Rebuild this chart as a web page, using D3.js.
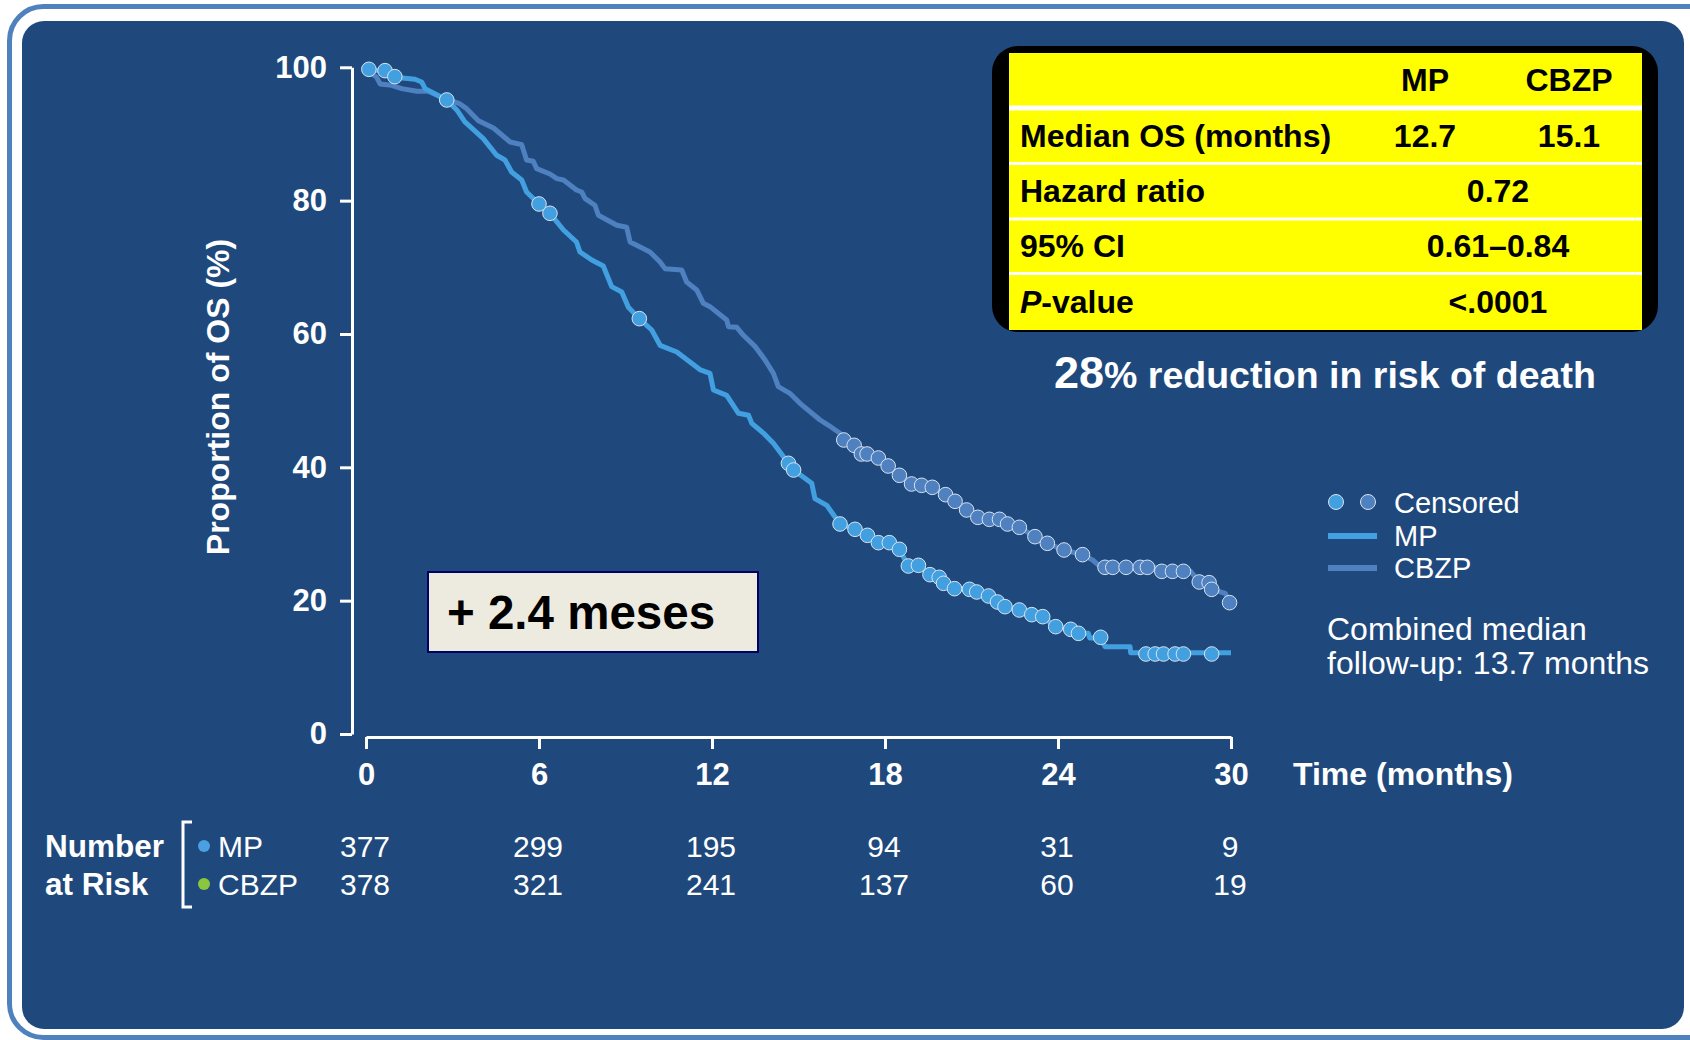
<!DOCTYPE html>
<html>
<head>
<meta charset="utf-8">
<script src="https://cdn.jsdelivr.net/npm/d3@7"></script>
<style>
  body { margin: 0; background: #ffffff; }
  svg { display: block; font-family: "Liberation Sans", Arial, sans-serif; }
</style>
</head>
<body>
<div id="chart"></div>
<script>
// Kaplan-Meier values: [month, % alive]
const mpCurve = [
  [0, 99.7], [0.66, 99.4], [1.0, 98.5], [1.7, 98.2], [1.93, 97.8], [2.05, 96.8], [2.8, 95.1],
  [3.15, 93.6], [3.43, 91.8], [4.07, 89.3], [4.53, 86.8], [4.82, 86.1], [5.05, 84.3], [5.4, 83.1],
  [5.57, 81.3], [6.0, 79.5], [6.38, 78.1], [6.85, 75.6], [7.3, 73.8], [7.42, 72.3], [7.83, 71.1],
  [8.23, 70.2], [8.52, 67.1], [8.87, 66.3], [9.1, 64.0], [9.48, 62.3], [9.91, 60.6], [10.2, 58.3],
  [10.78, 57.3], [11.6, 54.6], [11.93, 54.1], [12.05, 51.6], [12.51, 50.8], [12.92, 48.1],
  [13.27, 47.8], [13.38, 46.6], [13.79, 45.1], [14.13, 43.6], [14.65, 40.6], [14.83, 39.6],
  [15.46, 37.6], [15.57, 35.3], [15.98, 34.3], [16.44, 31.5], [16.96, 30.7], [17.39, 29.8],
  [17.77, 28.7], [18.15, 28.7], [18.5, 27.7], [18.81, 25.2], [19.16, 25.2], [19.56, 23.9],
  [19.88, 23.5], [20.03, 22.6], [20.41, 21.8], [20.93, 21.7], [21.18, 21.3], [21.59, 20.7],
  [21.9, 19.8], [22.16, 19.1], [22.66, 18.6], [23.09, 17.9], [23.47, 17.6], [23.92, 16.1],
  [24.44, 15.7], [24.71, 15.1], [25.05, 15.1], [25.1, 14.4], [25.48, 14.4], [25.63, 13.1],
  [26.5, 13.1], [26.52, 12.2], [30, 12.2]
];
const cbzpCurve = [
  [0, 99.7], [0.37, 98.5], [0.49, 97.5], [0.89, 97.3], [1.24, 96.8], [1.76, 96.4], [2.16, 96.4],
  [2.57, 95.6], [3.26, 94.5], [3.49, 93.8], [3.9, 92.0], [4.42, 90.9], [5.0, 88.8], [5.4, 88.4],
  [5.57, 86.1], [5.8, 85.9], [5.92, 84.8], [6.38, 84.0], [6.62, 83.3], [6.85, 83.1], [7.3, 81.6],
  [7.48, 81.3], [7.6, 80.3], [7.94, 79.3], [8.06, 77.8], [8.7, 76.3], [9.04, 76.0], [9.16, 73.8],
  [9.85, 72.3], [10.2, 70.8], [10.37, 69.8], [10.95, 69.6], [11.12, 67.8], [11.47, 66.6],
  [11.7, 64.6], [11.93, 64.1], [12.51, 62.1], [12.57, 61.1], [12.86, 61.0], [13.09, 59.8],
  [13.5, 58.1], [13.84, 56.1], [14.13, 54.1], [14.3, 52.1], [14.7, 51.1], [15.05, 49.6],
  [15.75, 47.1], [16.04, 46.3], [16.44, 45.1], [16.57, 44.1], [16.93, 43.3], [17.18, 42.0],
  [17.38, 42.0], [17.77, 41.4], [18.11, 40.2], [18.5, 38.8], [18.92, 37.5], [19.27, 37.3],
  [19.64, 37.0], [20.1, 35.9], [20.43, 34.9], [20.83, 33.6], [21.22, 32.5], [21.62, 32.2],
  [21.97, 32.2], [22.25, 31.5], [22.66, 31.0], [23.2, 29.6], [23.63, 28.6], [24.21, 27.6],
  [24.85, 26.9], [25.2, 26.1], [25.5, 25.0], [27.4, 25.0], [27.45, 24.4], [28.6, 24.4],
  [28.9, 22.8], [29.24, 22.7], [29.33, 21.7], [29.8, 21.1], [29.95, 19.7]
];

// censored observations
const mpCensored = [
  [0.1, 99.7], [0.66, 99.5], [1.0, 98.6], [2.8, 95.1], [6.0, 79.5], [6.38, 78.1], [9.48, 62.3],
  [14.65, 40.6], [14.83, 39.6], [16.44, 31.5], [16.96, 30.7], [17.39, 29.8], [17.77, 28.7],
  [18.15, 28.7], [18.5, 27.7], [18.81, 25.2], [19.16, 25.3], [19.56, 23.9], [19.88, 23.5],
  [20.03, 22.6], [20.41, 21.8], [20.93, 21.7], [21.18, 21.3], [21.59, 20.7], [21.9, 19.8],
  [22.16, 19.1], [22.66, 18.6], [23.09, 17.9], [23.47, 17.6], [23.92, 16.1], [24.44, 15.7],
  [24.71, 15.1], [25.48, 14.5], [27.05, 12.0], [27.37, 12.0], [27.66, 12.0], [28.06, 12.0],
  [28.35, 12.0], [29.33, 12.0]
];
const cbzpCensored = [
  [16.57, 44.1], [16.93, 43.3], [17.18, 42.0], [17.38, 42.0], [17.77, 41.4], [18.11, 40.2],
  [18.5, 38.8], [18.92, 37.5], [19.27, 37.3], [19.64, 37.0], [20.1, 35.9], [20.43, 34.9],
  [20.83, 33.6], [21.22, 32.5], [21.62, 32.2], [21.97, 32.2], [22.25, 31.5], [22.66, 31.0],
  [23.2, 29.6], [23.63, 28.6], [24.21, 27.6], [24.85, 26.9], [25.63, 25.0], [25.9, 25.0],
  [26.36, 25.0], [26.85, 25.0], [27.1, 25.0], [27.6, 24.4], [27.97, 24.4], [28.35, 24.4],
  [28.9, 22.8], [29.24, 22.7], [29.33, 21.7], [29.95, 19.7]
];

const xTicks = [0, 6, 12, 18, 24, 30];
const yTicks = [0, 20, 40, 60, 80, 100];
const riskMP = [377, 299, 195, 94, 31, 9];
const riskCBZP = [378, 321, 241, 137, 60, 19];

const tableHeader = ["MP", "CBZP"];
const tableRows = [
  { label: "Median OS (months)", mp: "12.7", cbzp: "15.1" },
  { label: "Hazard ratio", both: "0.72" },
  { label: "95% CI", both: "0.61–0.84" },
  { label: "-value", italic: "P", both: "<.0001" }
];

const colMP = "#42a0e0", colCBZP = "#4f80bf";
const W = 1690, H = 1040;

const svg = d3.select("#chart").append("svg")
  .attr("width", W).attr("height", H);

// frame and panel
svg.append("rect")
  .attr("x", 9.5).attr("y", 6.5).attr("width", 1720).attr("height", 1031)
  .attr("rx", 34).attr("fill", "none").attr("stroke", "#4f81bd").attr("stroke-width", 5);
svg.append("rect")
  .attr("x", 22).attr("y", 21).attr("width", 1662).attr("height", 1008)
  .attr("rx", 22).attr("fill", "#1f497d");

const x = d3.scaleLinear().domain([0, 30]).range([366, 1231]);
const y = d3.scaleLinear().domain([0, 100]).range([734, 67.3]);

// y axis
const yAxis = svg.append("g")
  .attr("transform", "translate(352,0)")
  .call(d3.axisLeft(y).tickValues(yTicks).tickSizeInner(12).tickSizeOuter(0).tickPadding(13));
// x axis
const xAxis = svg.append("g")
  .attr("transform", "translate(0,737)")
  .call(d3.axisBottom(x).tickValues(xTicks).tickSizeInner(12).tickSizeOuter(0).tickPadding(14));

[yAxis, xAxis].forEach(g => {
  g.selectAll("path, line").attr("stroke", "#ffffff").attr("stroke-width", 3);
  g.selectAll("text")
    .attr("fill", "#ffffff")
    .style("font-size", "31px")
    .style("font-weight", "bold")
    .style("font-family", "'Liberation Sans', Arial, sans-serif");
});

svg.append("text")
  .attr("transform", "translate(229,397) rotate(-90)")
  .attr("text-anchor", "middle")
  .attr("fill", "#ffffff")
  .style("font-size", "32px").style("font-weight", "bold")
  .text("Proportion of OS (%)");

svg.append("text")
  .attr("x", 1293).attr("y", 785)
  .attr("fill", "#ffffff")
  .style("font-size", "32px").style("font-weight", "bold")
  .text("Time (months)");

// curves
const line = d3.line().x(d => x(d[0])).y(d => y(d[1]));
svg.append("path").datum(cbzpCurve)
  .attr("d", line).attr("fill", "none").attr("stroke", colCBZP)
  .attr("stroke-width", 5).attr("stroke-linejoin", "round");
svg.append("path").datum(mpCurve)
  .attr("d", line).attr("fill", "none").attr("stroke", colMP)
  .attr("stroke-width", 5).attr("stroke-linejoin", "round");

svg.append("g").selectAll("circle")
  .data(cbzpCensored).join("circle")
  .attr("cx", d => x(d[0])).attr("cy", d => y(d[1])).attr("r", 7.3)
  .attr("fill", colCBZP).attr("stroke", "#d8e4f0").attr("stroke-width", 1);
svg.append("g").selectAll("circle")
  .data(mpCensored).join("circle")
  .attr("cx", d => x(d[0])).attr("cy", d => y(d[1])).attr("r", 7.3)
  .attr("fill", colMP).attr("stroke", "#d8e4f0").attr("stroke-width", 1);

// "+ 2.4 meses" box
svg.append("rect")
  .attr("x", 428).attr("y", 572).attr("width", 330).attr("height", 80)
  .attr("fill", "#edebe0").attr("stroke", "#000066").attr("stroke-width", 2);
svg.append("text")
  .attr("x", 447).attr("y", 629)
  .attr("fill", "#000000")
  .style("font-size", "47.5px").style("font-weight", "bold")
  .text("+ 2.4 meses");

// results table
svg.append("rect")
  .attr("x", 992).attr("y", 46).attr("width", 666).attr("height", 286)
  .attr("rx", 26).attr("fill", "#000000");
svg.append("rect")
  .attr("x", 1009).attr("y", 53).attr("width", 633).attr("height", 277)
  .attr("fill", "#ffff00");
[108, 163.5, 219, 273.5].forEach((sy, i) => {
  svg.append("line")
    .attr("x1", 1009).attr("x2", 1642).attr("y1", sy).attr("y2", sy)
    .attr("stroke", "#ffffff").attr("stroke-width", i === 0 ? 5 : 3);
});
const colX = [1425, 1569], bothX = 1498;
const rowY = [91, 147, 202, 257, 313];
const tbl = svg.append("g")
  .style("font-size", "32px").style("font-weight", "bold").attr("fill", "#000000");
tableHeader.forEach((h, i) => {
  tbl.append("text").attr("x", colX[i]).attr("y", rowY[0])
    .attr("text-anchor", "middle").text(h);
});
tableRows.forEach((r, i) => {
  const t = tbl.append("text").attr("x", 1020).attr("y", rowY[i + 1]);
  if (r.italic) t.append("tspan").style("font-style", "italic").text(r.italic);
  t.append("tspan").text(r.label);
  if (r.both) {
    tbl.append("text").attr("x", bothX).attr("y", rowY[i + 1])
      .attr("text-anchor", "middle").text(r.both);
  } else {
    tbl.append("text").attr("x", colX[0]).attr("y", rowY[i + 1])
      .attr("text-anchor", "middle").text(r.mp);
    tbl.append("text").attr("x", colX[1]).attr("y", rowY[i + 1])
      .attr("text-anchor", "middle").text(r.cbzp);
  }
});

const red = svg.append("text")
  .attr("x", 1054).attr("y", 388)
  .attr("fill", "#ffffff").style("font-weight", "bold");
red.append("tspan").style("font-size", "45px").text("28");
red.append("tspan").style("font-size", "37.5px").text("% reduction in risk of death");

// legend
const lg = svg.append("g").attr("fill", "#ffffff").style("font-size", "29px");
lg.append("circle").attr("cx", 1336).attr("cy", 502).attr("r", 7.5)
  .attr("fill", colMP).attr("stroke", "#d8e4f0").attr("stroke-width", 1);
lg.append("circle").attr("cx", 1368).attr("cy", 502).attr("r", 7.5)
  .attr("fill", colCBZP).attr("stroke", "#d8e4f0").attr("stroke-width", 1);
lg.append("text").attr("x", 1394).attr("y", 513).text("Censored");
lg.append("line").attr("x1", 1328).attr("x2", 1377).attr("y1", 536).attr("y2", 536)
  .attr("stroke", colMP).attr("stroke-width", 6);
lg.append("text").attr("x", 1394).attr("y", 546).text("MP");
lg.append("line").attr("x1", 1328).attr("x2", 1377).attr("y1", 568).attr("y2", 568)
  .attr("stroke", colCBZP).attr("stroke-width", 6);
lg.append("text").attr("x", 1394).attr("y", 578).text("CBZP");
lg.append("text").attr("x", 1327).attr("y", 640).style("font-size", "32px").text("Combined median");
lg.append("text").attr("x", 1327).attr("y", 674).style("font-size", "32px").text("follow-up: 13.7 months");

// number at risk
const nr = svg.append("g").attr("fill", "#ffffff").style("font-size", "30px");
nr.append("text").attr("x", 45).attr("y", 857).style("font-weight", "bold").style("font-size", "31.5px").text("Number");
nr.append("text").attr("x", 45).attr("y", 895).style("font-weight", "bold").style("font-size", "31.5px").text("at Risk");
nr.append("path")
  .attr("d", "M192,822H183V907H192")
  .attr("fill", "none").attr("stroke", "#ffffff").attr("stroke-width", 3);
nr.append("circle").attr("cx", 204).attr("cy", 846).attr("r", 6).attr("fill", "#4aa0e0");
nr.append("circle").attr("cx", 204).attr("cy", 884).attr("r", 6).attr("fill", "#8cc63e");
nr.append("text").attr("x", 218).attr("y", 857).text("MP");
nr.append("text").attr("x", 218).attr("y", 895).text("CBZP");
nr.selectAll(".rmp").data(riskMP).join("text")
  .attr("class", "rmp")
  .attr("x", (d, i) => x(xTicks[i]) - 1).attr("y", 857)
  .attr("text-anchor", "middle").text(d => d);
nr.selectAll(".rcb").data(riskCBZP).join("text")
  .attr("class", "rcb")
  .attr("x", (d, i) => x(xTicks[i]) - 1).attr("y", 895)
  .attr("text-anchor", "middle").text(d => d);
</script>
</body>
</html>
